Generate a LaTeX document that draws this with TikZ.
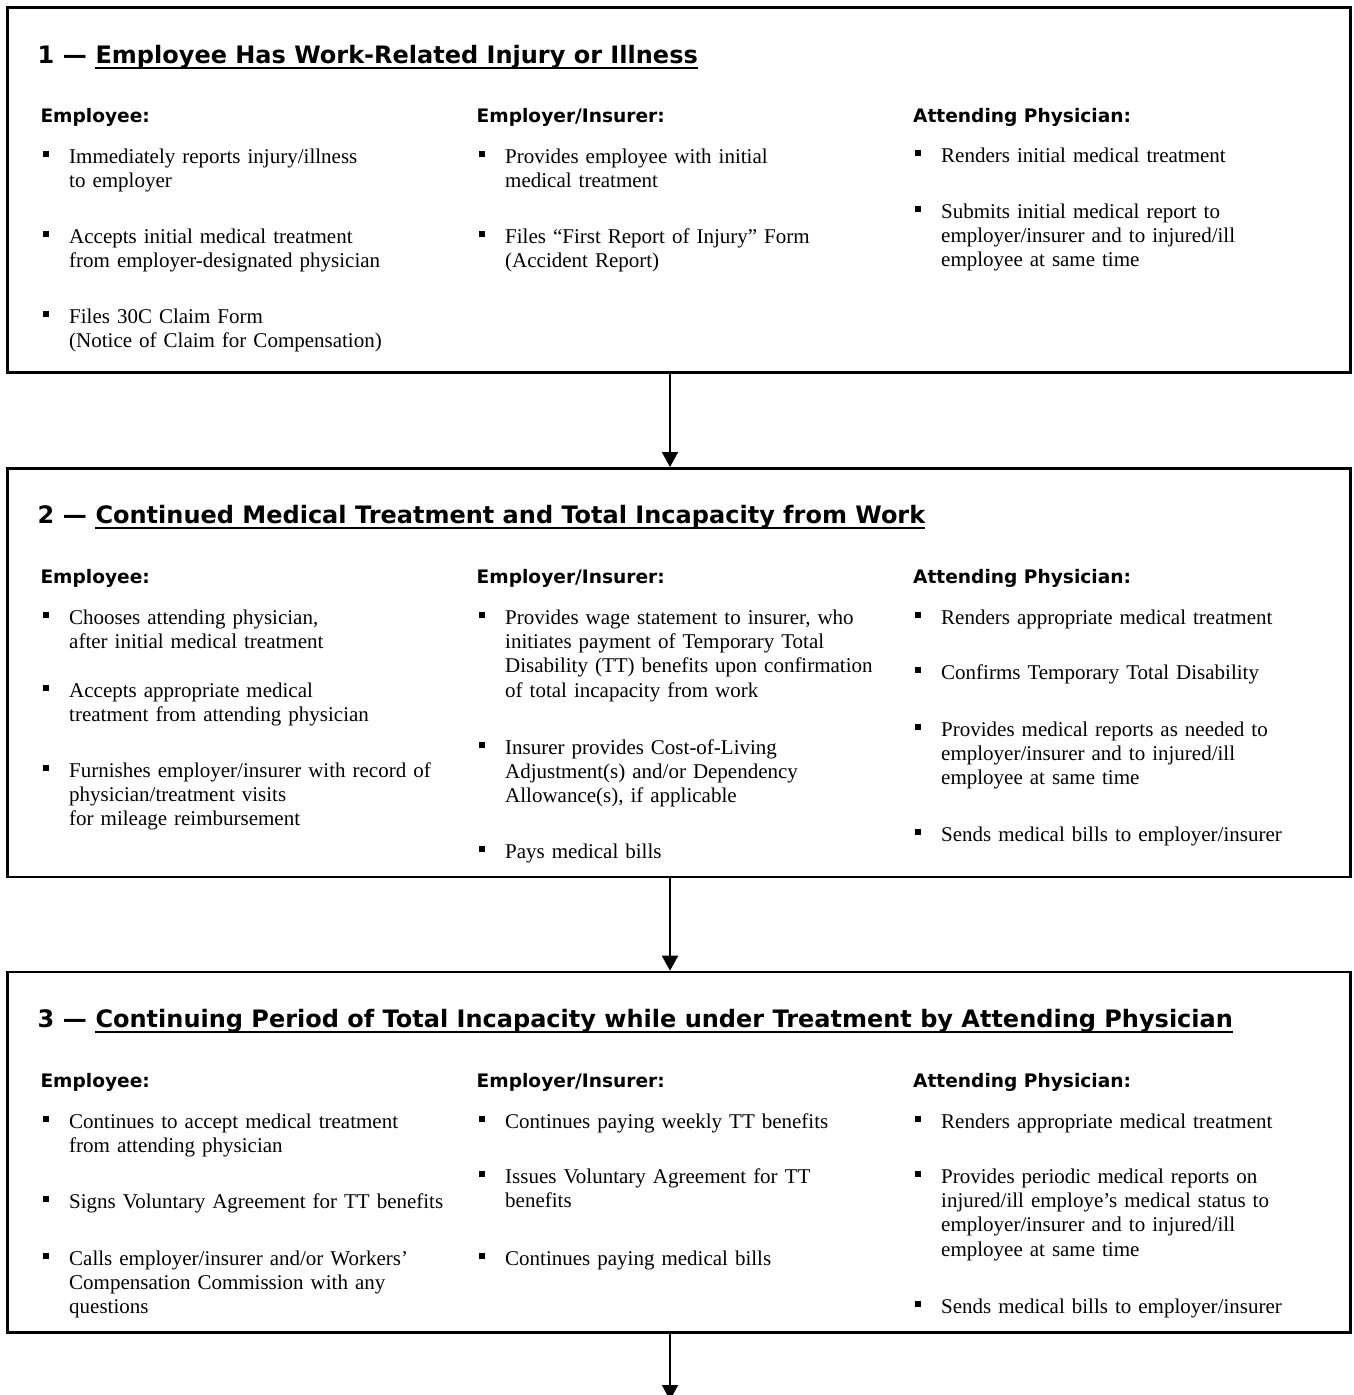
\documentclass[tikz,border=0pt]{standalone}
\usepackage{fontspec}
\setmainfont{Liberation Serif}
\newfontfamily\headfont{DejaVu Sans}
\usetikzlibrary{arrows.meta}
\tikzset{
  box/.style={draw, line width=2.6pt, inner sep=0pt},
  ttl/.style={anchor=base west, inner sep=0pt, font=\headfont\bfseries\fontsize{24}{28}\selectfont},
  hdr/.style={anchor=base west, inner sep=0pt, font=\headfont\bfseries\fontsize{18.6}{22}\selectfont},
  item/.style={anchor=base west, inner sep=0pt, text width=400pt, align=left, font=\fontsize{21}{24.4}\selectfont},
  bul/.style={fill=black},
  ul/.style={line width=2pt},
  arr/.style={line width=2pt, -{Triangle[length=15pt,width=16pt]}}
}
\newcommand\itm[4]{\node[item] (#1) at (#2,#3) {#4};
  \fill[bul] ([xshift=-26.5pt,yshift=6pt]#1.base west) rectangle ++(6.5,-6.5);}
\newcommand\ttlline[4]{\node[ttl] (#1n) at (37.5,#2) {#3 —};
  \node[ttl] (#1) at ([xshift=8.4pt]#1n.base east) {#4};
  \draw[ul] ([yshift=-4.7pt]#1.base west) -- ([yshift=-4.7pt]#1.base east);}
\begin{document}
\begin{tikzpicture}[x=1pt,y=-1pt]
\useasboundingbox (0,0) rectangle (1353,1395);
\clip (0,0) rectangle (1353,1395);
% boxes
\node[box, minimum width=1342.8pt, minimum height=365pt] (b1) at (679.1,190.2) {};
\node[box, minimum width=1342.8pt, minimum height=408.7pt] (b2) at (679.1,672.65) {};
\node[box, minimum width=1342.8pt, minimum height=360.7pt] (b3) at (679.1,1152.35) {};
\coordinate (ax) at (670,0);
\coordinate (aend) at (670,1400);
\draw[arr] (b1.south -| ax) -- (b2.north -| ax);
\draw[arr] (b2.south -| ax) -- (b3.north -| ax);
\draw[arr] (b3.south -| ax) -- (aend);

% ---------- box 1
\ttlline{t1}{63}{1}{Employee Has Work-Related Injury or Illness}
\node[hdr] (b1h1) at (40.3,122) {Employee:};
\node[hdr] (b1h2) at (476.5,122) {Employer/Insurer:};
\node[hdr] (b1h3) at (913,122) {Attending Physician:};
\itm{b1a1}{69}{163}{Immediately reports injury/illness\\to employer}
\itm{b1a2}{69}{243}{Accepts initial medical treatment\\from employer-designated physician}
\itm{b1a3}{69}{323}{Files 30C Claim Form\\(Notice of Claim for Compensation)}
\itm{b1b1}{505}{163}{Provides employee with initial\\medical treatment}
\itm{b1b2}{505}{243}{Files “First Report of Injury” Form\\(Accident Report)}
\itm{b1c1}{941}{162}{Renders initial medical treatment}
\itm{b1c2}{941}{218}{Submits initial medical report to\\employer/insurer and to injured/ill\\employee at same time}

% ---------- box 2
\ttlline{t2}{523}{2}{Continued Medical Treatment and Total Incapacity from Work}
\node[hdr] (b2h1) at (40.3,583) {Employee:};
\node[hdr] (b2h2) at (476.5,583) {Employer/Insurer:};
\node[hdr] (b2h3) at (913,583) {Attending Physician:};
\itm{b2a1}{69}{624}{Chooses attending physician,\\after initial medical treatment}
\itm{b2a2}{69}{697}{Accepts appropriate medical\\treatment from attending physician}
\itm{b2a3}{69}{777}{Furnishes employer/insurer with record of\\physician/treatment visits\\for mileage reimbursement}
\itm{b2b1}{505}{624}{Provides wage statement to insurer, who\\initiates payment of Temporary Total\\Disability (TT) benefits upon confirmation\\of total incapacity from work}
\itm{b2b2}{505}{754}{Insurer provides Cost-of-Living\\Adjustment(s) and/or Dependency\\Allowance(s), if applicable}
\itm{b2b3}{505}{858}{Pays medical bills}
\itm{b2c1}{941}{624}{Renders appropriate medical treatment}
\itm{b2c2}{941}{679}{Confirms Temporary Total Disability}
\itm{b2c3}{941}{736}{Provides medical reports as needed to\\employer/insurer and to injured/ill\\employee at same time}
\itm{b2c4}{941}{841}{Sends medical bills to employer/insurer}

% ---------- box 3
\ttlline{t3}{1027}{3}{Continuing Period of Total Incapacity while under Treatment by Attending Physician}
\node[hdr] (b3h1) at (40.3,1087) {Employee:};
\node[hdr] (b3h2) at (476.5,1087) {Employer/Insurer:};
\node[hdr] (b3h3) at (913,1087) {Attending Physician:};
\itm{b3a1}{69}{1128}{Continues to accept medical treatment\\from attending physician}
\itm{b3a2}{69}{1208}{Signs Voluntary Agreement for TT benefits}
\itm{b3a3}{69}{1265}{Calls employer/insurer and/or Workers’\\Compensation Commission with any\\questions}
\itm{b3b1}{505}{1128}{Continues paying weekly TT benefits}
\itm{b3b2}{505}{1183}{Issues Voluntary Agreement for TT\\benefits}
\itm{b3b3}{505}{1265}{Continues paying medical bills}
\itm{b3c1}{941}{1128}{Renders appropriate medical treatment}
\itm{b3c2}{941}{1183}{Provides periodic medical reports on\\injured/ill employe’s medical status to\\employer/insurer and to injured/ill\\employee at same time}
\itm{b3c3}{941}{1313}{Sends medical bills to employer/insurer}
\end{tikzpicture}
\end{document}
